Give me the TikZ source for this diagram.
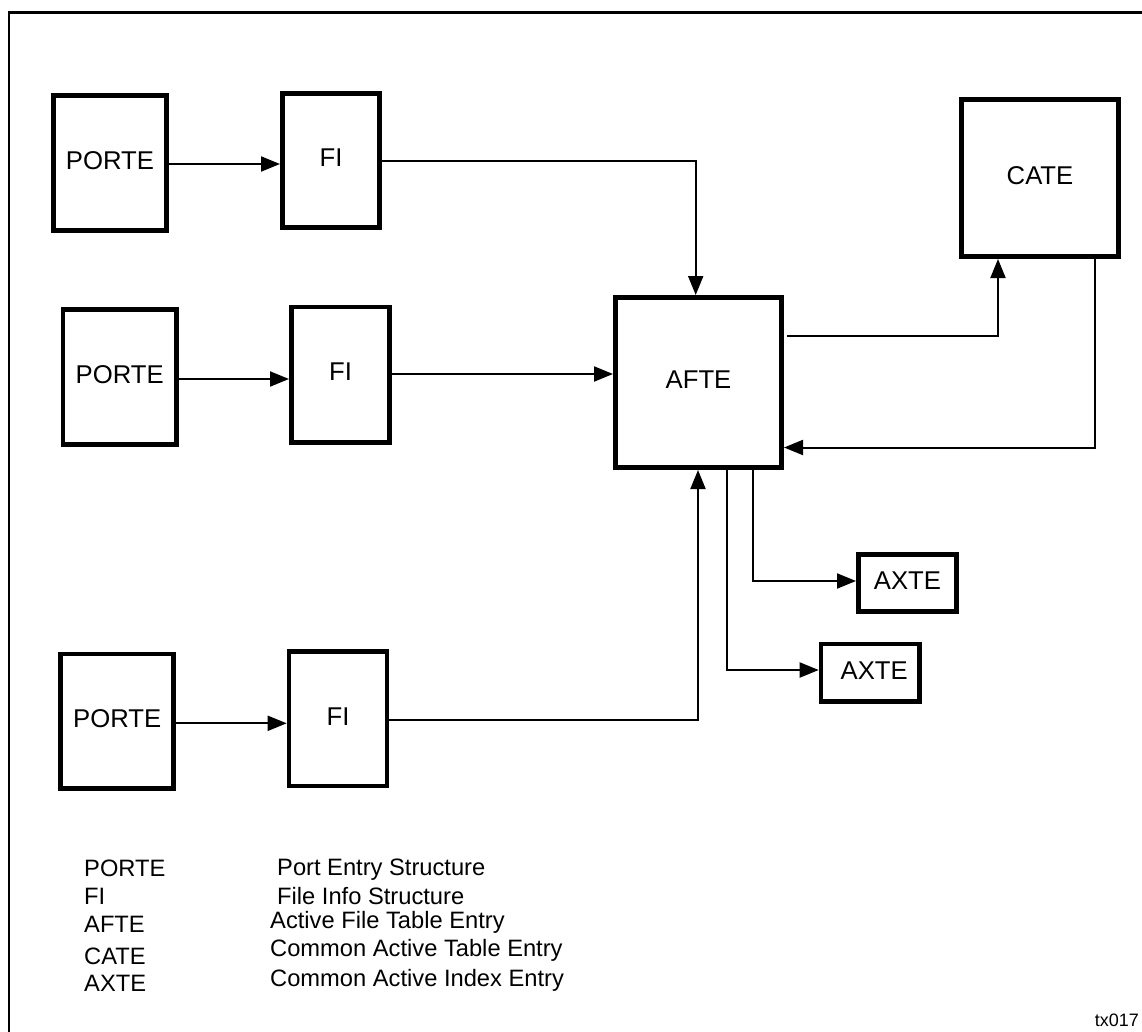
\documentclass[tikz,border=0pt]{standalone}
\usepackage{fontspec}
\setmainfont{Liberation Sans}
\usetikzlibrary{arrows.meta}
\begin{document}
\begin{tikzpicture}[x=1pt,y=-1pt,
  box/.style={draw, line width=4.7pt, inner sep=0pt, text height=18.4pt, text depth=6pt,
    font=\fontsize{25.7}{30}\selectfont},
  conn/.style={line width=2pt},
  arr/.style={conn, -{Triangle[length=19pt,width=15pt]}},
  legend/.style={anchor=base west, inner sep=0pt, font=\fontsize{23.7}{28}\selectfont}]
\useasboundingbox (0,0) rectangle (1142,1032);
\draw[line width=2.5pt] (9,1032) -- (9,12.5) -- (1142,12.5);

\node[box, minimum width=113.3pt, minimum height=135.3pt] (P1) at (110,163) {PORTE};
\node[box, minimum width=97.3pt, minimum height=134.3pt] (FI1) at (331,160.5) {FI};
\node[box, minimum width=113.3pt, minimum height=135pt] (P2) at (119.7,376.8) {PORTE};
\node[box, minimum width=98.3pt, minimum height=135.3pt] (FI2) at (340.5,374.7) {FI};
\node[box, minimum width=113pt, minimum height=134.6pt] (P3) at (117.2,721.3) {PORTE};
\node[box, minimum width=97.9pt, minimum height=134.3pt] (FI3) at (338,718.8) {FI};
\node[box, minimum width=166.3pt, minimum height=170.3pt] (AFTE) at (698.5,382.5) {AFTE};
\node[box, minimum width=157.3pt, minimum height=157.3pt] (CATE) at (1040,178) {CATE};
\node[box, minimum width=98.3pt, minimum height=57.3pt] (AX1) at (907.5,583) {AXTE};
\node[box, minimum width=98.3pt, minimum height=57.6pt] (AX2) at (870.2,672.8) {\hspace{8pt}AXTE};

\draw[arr] (P1.east |- 0,164) -- (FI1.west |- 0,164);
\draw[arr] (FI1.east |- 0,160.7) -| (AFTE.north -| 695.7,0);
\draw[arr] (P2.east |- 0,379) -- (FI2.west |- 0,379);
\draw[arr] (FI2.east |- 0,374) -- (AFTE.west |- 0,374);
\draw[arr] (P3.east |- 0,723.3) -- (FI3.west |- 0,723.3);
\draw[arr] (FI3.east |- 0,719.5) -| (AFTE.south -| 698,0);
\draw[arr] ([xshift=3pt]AFTE.east |- 0,335.7) -| (CATE.south -| 998,0);
\draw[arr] (CATE.south -| 1095,0) |- (AFTE.east |- 0,447.5);
\draw[arr] (AFTE.south -| 753.3,0) |- (AX1.west |- 0,581);
\draw[arr] (AFTE.south -| 726.7,0) |- (AX2.west |- 0,670);

\node[legend] (l1) at (84,876) {PORTE};
\node[legend] (l2) at (84,904.3) {FI};
\node[legend] (l3) at (84,932.7) {AFTE};
\node[legend] (l4) at (84,964) {CATE};
\node[legend] (l5) at (84,991) {AXTE};
\node[legend] (d1) at (277,875.7) {Port Entry Structure};
\node[legend] (d2) at (277,904) {File Info Structure};
\node[legend] (d3) at (270,928.7) {Active File Table Entry};
\node[legend] (d4) at (270,956.7) {Common Active Table Entry};
\node[legend] (d5) at (270,986) {Common Active Index Entry};
\node[anchor=base east, inner sep=0pt, font=\fontsize{18}{22}\selectfont] (tag) at (1139,1026.7) {tx017};
\end{tikzpicture}
\end{document}
